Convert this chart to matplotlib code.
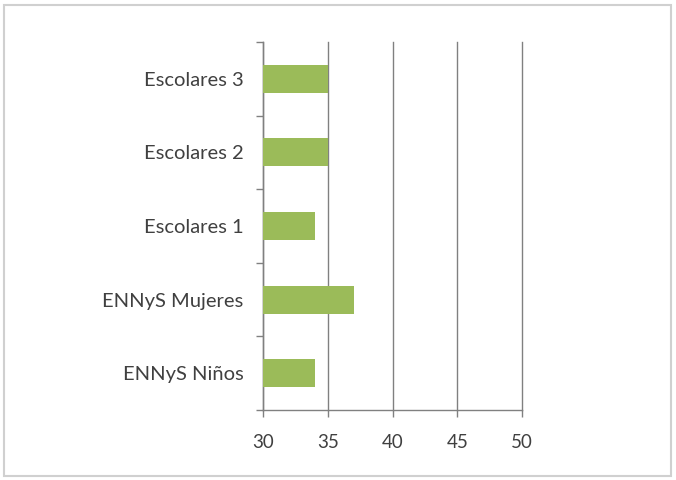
import matplotlib.pyplot as plt
from matplotlib.patches import Rectangle
import numpy as np

# datos
categorias = ['ENNyS Niños', 'ENNyS Mujeres', 'Escolares 1', 'Escolares 2', 'Escolares 3']
valores = [34, 37, 34, 35, 35]
xticks = [30, 35, 40, 45, 50]

plt.rcParams['font.family'] = ['Lato', 'DejaVu Sans']

fig = plt.figure(figsize=(6.76, 4.8), dpi=100)
# marco exterior gris
fig.patches.append(Rectangle((4 / 676, 4 / 480), 667 / 676, 471 / 480, transform=fig.transFigure,
                             fill=False, edgecolor='#d0d0d0', linewidth=1.5))

ax = fig.add_axes([263 / 676, 70 / 480, 259 / 676, 368 / 480])
y = np.arange(len(categorias))
ax.barh(y, np.array(valores) - 30, left=30, height=0.38, color='#9bbb59', zorder=3)

ax.set_xlim(30, 50)
ax.set_ylim(-0.5, len(categorias) - 0.5)
ax.set_xticks(xticks)
ax.set_xticklabels([str(v) for v in xticks], fontsize=13.5, color='#404040')
ax.set_yticks(y)
ax.set_yticklabels(categorias, fontsize=14.5, color='#404040')
ax.tick_params(axis='y', length=0, pad=14)
ax.set_yticks(np.arange(-0.5, len(categorias)), minor=True)
ax.tick_params(axis='y', which='minor', length=5, color='#808080', width=1)
ax.tick_params(axis='x', length=5, color='#808080', width=1, pad=12)

ax.grid(axis='x', color='#808080', linewidth=1, zorder=0)
for g in ax.get_xgridlines():
    g.set_clip_on(False)
for s in ['top', 'right']:
    ax.spines[s].set_visible(False)
for s in ['left', 'bottom']:
    ax.spines[s].set_color('#808080')
    ax.spines[s].set_linewidth(1)

plt.savefig('out.png')
